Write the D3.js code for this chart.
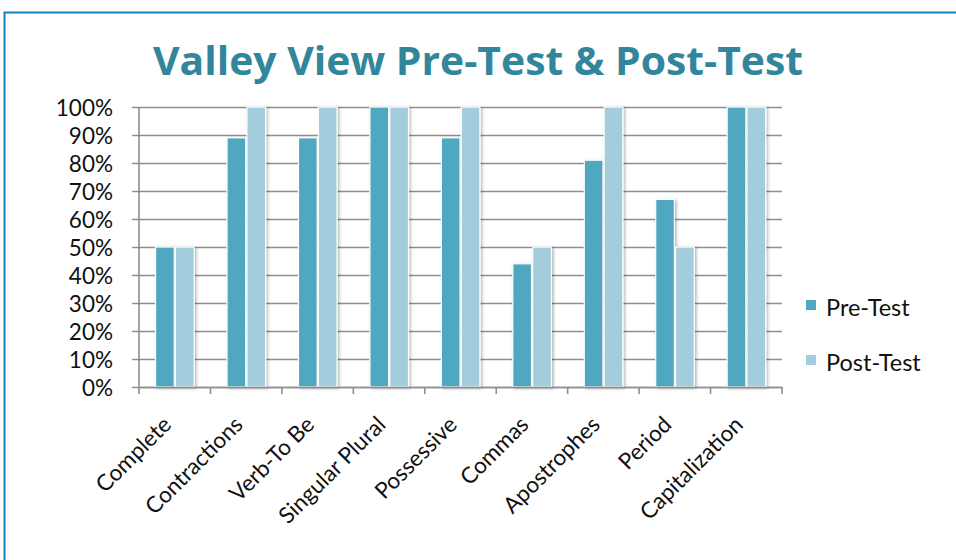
<!DOCTYPE html>
<html>
<head>
<meta charset="utf-8">
<script src="https://cdn.jsdelivr.net/npm/d3@7"></script>
<style>
  body { margin: 0; background: #fff; }
  text { font-family: Lato, "Open Sans", sans-serif; fill: #111; }
</style>
</head>
<body>
<div id="chart"></div>
<script>
// Data
const categories = ["Complete", "Contractions", "Verb-To Be", "Singular Plural", "Possessive",
                    "Commas", "Apostrophes", "Period", "Capitalization"];
const seriesNames = ["Pre-Test", "Post-Test"];
const preTest  = [0.50, 0.89, 0.89, 1.00, 0.89, 0.44, 0.81, 0.67, 1.00];
const postTest = [0.50, 1.00, 1.00, 1.00, 1.00, 0.50, 1.00, 0.50, 1.00];
const yTicks = [0, 0.1, 0.2, 0.3, 0.4, 0.5, 0.6, 0.7, 0.8, 0.9, 1.0];

const colors = { "Pre-Test": "#50a7c0", "Post-Test": "#a3cddc" };

const width = 956;
const height = 560;
const margin = { top: 107, right: 174, bottom: 173, left: 139 };

const svg = d3.select("#chart")
    .append("svg")
    .attr("width", width)
    .attr("height", height);

// soft shadow for bars
const defs = svg.append("defs");
const filter = defs.append("filter").attr("id", "shadow")
    .attr("x", "-30%").attr("y", "-10%").attr("width", "160%").attr("height", "120%");
filter.append("feDropShadow")
    .attr("dx", 1.5).attr("dy", 1).attr("stdDeviation", 1.5)
    .attr("flood-color", "#000").attr("flood-opacity", 0.3);

// outer border
svg.append("rect")
    .attr("x", 4.5).attr("y", 12.5)
    .attr("width", width + 20).attr("height", height + 20)
    .attr("fill", "none")
    .attr("stroke", "#1580c8")
    .attr("stroke-width", 2);

// Title
svg.append("text")
    .attr("x", 478)
    .attr("y", 75)
    .attr("text-anchor", "middle")
    .attr("textLength", 650)
    .attr("lengthAdjust", "spacingAndGlyphs")
    .style("font-family", "'Open Sans', sans-serif")
    .style("font-weight", "bold")
    .style("font-size", "39px")
    .style("fill", "#32869c")
    .text("Valley View Pre-Test & Post-Test");

// Scales
const xScale = d3.scaleBand()
    .domain(categories)
    .range([margin.left, width - margin.right])
    .padding(0);

const bw = xScale.bandwidth();
const xInner = d3.scaleBand()
    .domain(seriesNames)
    .range([bw * 0.232, bw * 0.772])
    .paddingInner(0.06);

const yScale = d3.scaleLinear()
    .domain([0, 1])
    .range([height - margin.bottom, margin.top]);

// Gridlines + y labels
const yAxis = d3.axisLeft(yScale)
    .tickValues(yTicks)
    .tickFormat(d3.format(".0%"))
    .tickSize(-(width - margin.left - margin.right) - 7);

const yG = svg.append("g")
    .attr("class", "y-axis")
    .attr("transform", `translate(${margin.left - 7},0)`)
    .call(yAxis);
yG.select(".domain").remove();
yG.selectAll(".tick line")
    .attr("stroke", "#8e8e8e")
    .attr("stroke-width", 1.6);
yG.selectAll(".tick text")
    .attr("x", -19)
    .attr("dy", "0.36em")
    .style("font-size", "22.5px")
    .style("fill", "#111");

// y axis vertical line
svg.append("line")
    .attr("x1", margin.left).attr("x2", margin.left)
    .attr("y1", yScale(1)).attr("y2", yScale(0))
    .attr("stroke", "#8e8e8e")
    .attr("stroke-width", 1.6);

// Bars
const groups = svg.selectAll(".group")
    .data(categories)
    .enter().append("g")
    .attr("class", "group")
    .attr("transform", d => `translate(${xScale(d)},0)`);

groups.selectAll("rect")
    .data((d, i) => [
        { key: "Pre-Test", value: preTest[i] },
        { key: "Post-Test", value: postTest[i] }
    ])
    .enter().append("rect")
    .attr("x", d => xInner(d.key))
    .attr("y", d => yScale(d.value))
    .attr("width", xInner.bandwidth())
    .attr("height", d => yScale(0) - yScale(d.value))
    .attr("fill", d => colors[d.key])
    .attr("stroke", "#fff")
    .attr("stroke-width", 1.2)
    .attr("filter", "url(#shadow)");

// X axis
const xAxis = d3.axisBottom(xScale).tickSize(0).tickFormat("");
const xG = svg.append("g")
    .attr("class", "x-axis")
    .attr("transform", `translate(0,${yScale(0)})`)
    .call(xAxis);
xG.select(".domain")
    .attr("stroke", "#8e8e8e")
    .attr("stroke-width", 1.6);

// category boundary ticks
const boundaries = categories.map(c => xScale(c)).concat([width - margin.right]);
svg.selectAll(".xtick")
    .data(boundaries)
    .enter().append("line")
    .attr("class", "xtick")
    .attr("x1", d => d).attr("x2", d => d)
    .attr("y1", yScale(0)).attr("y2", yScale(0) + 7)
    .attr("stroke", "#8e8e8e")
    .attr("stroke-width", 1.6);

// rotated category labels
svg.selectAll(".xlabel")
    .data(categories)
    .enter().append("text")
    .attr("class", "xlabel")
    .attr("text-anchor", "end")
    .attr("transform", d => `translate(${xScale(d) + bw / 2 - 2},${yScale(0) + 39}) rotate(-45)`)
    .style("font-size", "22.5px")
    .text(d => d);

// Legend
const legend = svg.selectAll(".legend")
    .data(seriesNames)
    .enter().append("g")
    .attr("class", "legend")
    .attr("transform", (d, i) => `translate(806,${300 + i * 55})`);

legend.append("rect")
    .attr("width", 10).attr("height", 10)
    .attr("fill", d => colors[d]);

legend.append("text")
    .attr("x", 20)
    .attr("y", 16)
    .style("font-size", "23.5px")
    .text(d => d);
</script>
</body>
</html>
